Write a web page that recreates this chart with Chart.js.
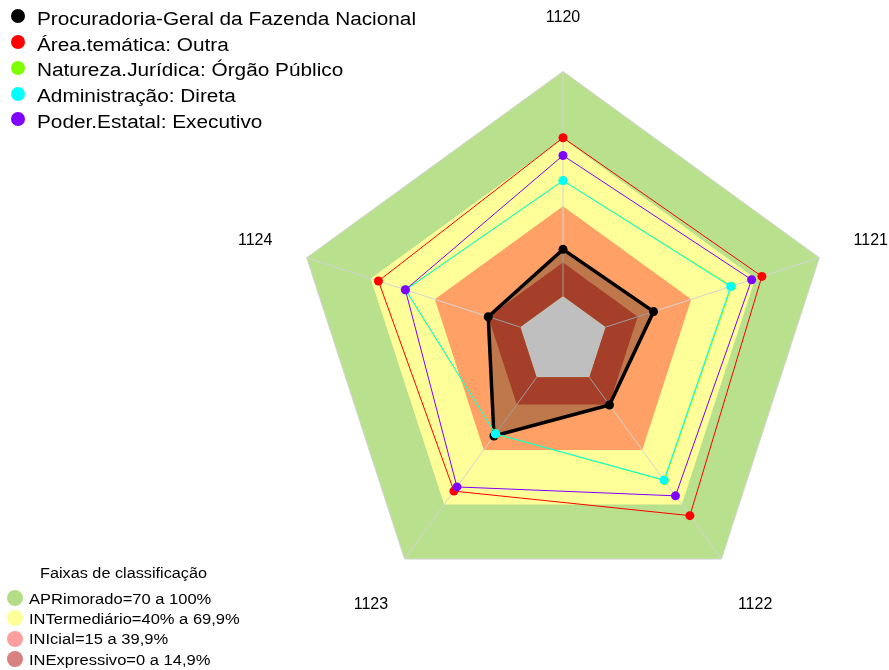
<!DOCTYPE html>
<html>
<head>
<meta charset="utf-8">
<script src="https://cdn.jsdelivr.net/npm/chart.js@4"></script>
<style>
  html, body { margin: 0; padding: 0; background: #fff; overflow: hidden; }
  #wrap { position: relative; width: 889px; height: 670px; overflow: hidden; }
  #radar { position: absolute; left: 0; top: -60px; }
  .dot { position: absolute; border-radius: 50%; }
  .txt { position: absolute; white-space: nowrap; color: #000;
         font-family: "Liberation Sans", Arial, sans-serif; transform-origin: 0 50%; }
</style>
</head>
<body>
<div id="wrap">
  <canvas id="radar" width="889" height="802"></canvas>
  <div id="legend"></div>
</div>
<script>
// categories (axes of the radar)
const categories = ['1120', '1121', '1122', '1123', '1124'];

// series, in %
const seriesNames = [
    'Procuradoria-Geral da Fazenda Nacional',
    'Área.temática: Outra',
    'Natureza.Jurídica: Órgão Público',
    'Administração: Direta',
    'Poder.Estatal: Executivo'
];
const seriesColors = ['#000000', '#ff0000', '#80ff00', '#00ffff', '#8000ff'];
const pgfn = [20.8, 22.4, 15.2, 32.3, 15.0];
const areaOutra = [70.5, 73.1, 76.1, 62.6, 66.4];
const orgaoPublico = [51.4, 58.9, 56.8, 31.1, 53.8];
const adminDireta = [51.4, 58.5, 56.5, 31.1, 53.6];
const poderExecutivo = [62.6, 68.3, 65.2, 60.3, 53.8];
const seriesValues = [pgfn, areaOutra, orgaoPublico, adminDireta, poderExecutivo];

// classification bands
const bandTitle = 'Faixas de classificação';
const bandNames = [
    'APRimorado=70 a 100%',
    'INTermediário=40% a 69,9%',
    'INIcial=15 a 39,9%',
    'INExpressivo=0 a 14,9%'
];
const bandLimits = [100, 70, 40, 15];
const bandFills = ['#b9e08d', '#ffff99', '#ffa066', '#dd5537'];
const bandLegendColors = ['#b5dd88', '#ffff99', '#ff9e9e', '#d98080'];

// point label placement (style only)
const labelPadding = [44, 36, 28, 28, 36];
const labelLineHeight = [1.2, 0.7, 2.9, 2.9, 0.7];

// spokes drawn over the bands, under the series
const spokes = {
    id: 'spokes',
    afterDatasetDraw(chart, args) {
        if (args.index !== bandLimits.length - 1) return;
        const r = chart.scales.r;
        const ctx = chart.ctx;
        ctx.save();
        ctx.strokeStyle = '#d3d3d3';
        ctx.lineWidth = 1;
        categories.forEach((_, i) => {
            const a = r.getPointPositionForValue(i, 0);
            const b = r.getPointPositionForValue(i, 100);
            ctx.beginPath();
            ctx.moveTo(a.x, a.y);
            ctx.lineTo(b.x, b.y);
            ctx.stroke();
        });
        ctx.restore();
    }
};

const bandSets = bandLimits.map((lim, i) => ({
    label: bandNames[i],
    data: categories.map(() => lim),
    backgroundColor: bandFills[i],
    borderColor: i === 0 ? '#d3d3d3' : bandFills[i],
    borderWidth: i === 0 ? 1 : 0,
    pointRadius: 0,
    fill: 'origin',
    order: 20 - i
}));

const seriesSets = seriesValues.map((vals, i) => ({
    label: seriesNames[i],
    data: vals,
    borderColor: seriesColors[i],
    backgroundColor: i === 0 ? 'rgba(0,0,0,0.25)' : seriesColors[i],
    pointBackgroundColor: seriesColors[i],
    pointBorderWidth: 0,
    pointRadius: 4.5,
    borderWidth: i === 0 ? 3.5 : 1,
    fill: i === 0 ? 'start' : false,
    order: 10 - i
}));

new Chart(document.getElementById('radar'), {
    type: 'radar',
    data: { labels: categories, datasets: bandSets.concat(seriesSets) },
    plugins: [spokes],
    options: {
        responsive: false,
        animation: false,
        layout: { padding: { left: 238, right: 1, top: 0, bottom: 0 } },
        elements: { line: { tension: 0 } },
        plugins: { legend: { display: false }, tooltip: { enabled: false } },
        scales: {
            r: {
                min: -20,
                max: 100,
                ticks: { display: false },
                grid: { display: false },
                angleLines: { display: false },
                pointLabels: {
                    color: '#000',
                    padding: ctx => labelPadding[ctx.index],
                    font: ctx => ({
                        family: '"Liberation Sans", Arial, sans-serif',
                        size: 16,
                        lineHeight: labelLineHeight[ctx.index]
                    })
                }
            }
        }
    }
});

// legends as html text
const legend = document.getElementById('legend');
function addDot(x, y, d, color) {
    const el = document.createElement('div');
    el.className = 'dot';
    el.style.cssText = `left:${x - d / 2}px;top:${y - d / 2}px;width:${d}px;height:${d}px;background:${color}`;
    legend.appendChild(el);
}
function addText(x, top, size, sx, text) {
    const el = document.createElement('div');
    el.className = 'txt';
    el.textContent = text;
    el.style.cssText = `left:${x}px;top:${top}px;font-size:${size}px;line-height:${size}px;transform:scaleX(${sx})`;
    legend.appendChild(el);
}

seriesNames.forEach((name, i) => {
    addDot(17.5, 16.2 + 25.8 * i, 14, seriesColors[i]);
    addText(36.5, 9.8 + 25.8 * i, 18, 1.155, name);
});

addText(40, 565.8, 14, 1.16, bandTitle);
bandNames.forEach((name, i) => {
    addDot(14.5, 597.7 + 20.4 * i, 16, bandLegendColors[i]);
    addText(28.5, 591.5 + 20.4 * i, 14, 1.18, name);
});
</script>
</body>
</html>
